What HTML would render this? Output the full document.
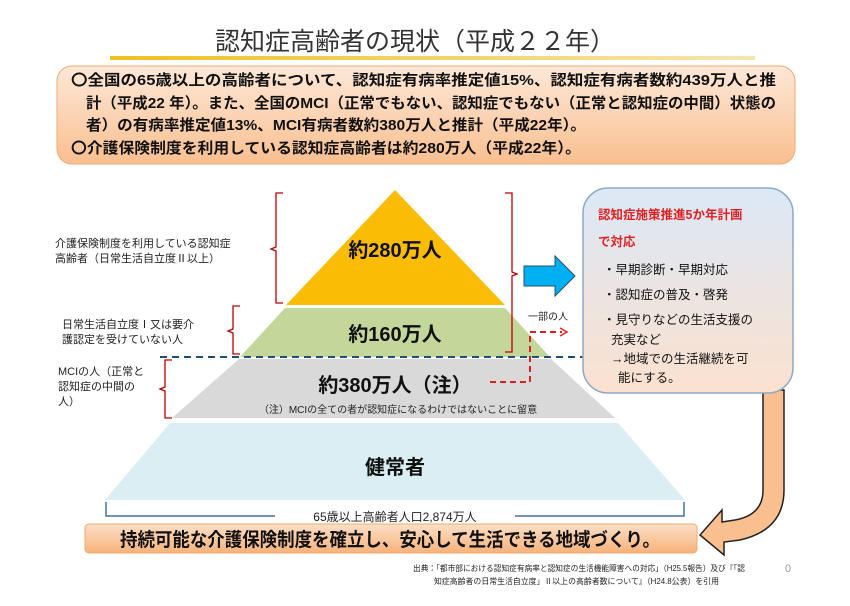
<!DOCTYPE html>
<html><head><meta charset="utf-8"><style>
body{margin:0;background:#fff}
text{font-family:"Liberation Sans","Noto Sans CJK JP",sans-serif}
</style></head><body>
<svg width="850" height="601" viewBox="0 0 850 601" xmlns="http://www.w3.org/2000/svg">
<defs>
<linearGradient id="ob" x1="0" y1="0" x2="0" y2="1"><stop offset="0" stop-color="#fde8d8"/><stop offset="1" stop-color="#f9bf8f"/></linearGradient>
<linearGradient id="bx" x1="0" y1="0" x2="0" y2="1"><stop offset="0" stop-color="#dbe8f6"/><stop offset="1" stop-color="#fbe1cf"/></linearGradient>
<linearGradient id="ul" x1="0" y1="0" x2="1" y2="0"><stop offset="0" stop-color="#f0c020"/><stop offset="1" stop-color="#f5e6b0"/></linearGradient>
<linearGradient id="bb" x1="0" y1="0" x2="0" y2="1"><stop offset="0" stop-color="#fde0c8"/><stop offset="1" stop-color="#f6b27a"/></linearGradient>
</defs>
<text x="415" y="50" font-size="25" text-anchor="middle" fill="#333">認知症高齢者の現状（平成２２年）</text>
<rect x="110" y="56" width="645" height="4" fill="url(#ul)"/>
<rect x="57" y="66" width="738" height="98" rx="15" fill="url(#ob)" stroke="#f0a870"/>
<g font-size="15" font-weight="bold" fill="#111">
<text x="71" y="85" textLength="705" lengthAdjust="spacingAndGlyphs">〇全国の65歳以上の高齢者について、認知症有病率推定値15%、認知症有病者数約439万人と推</text>
<text x="86" y="108" textLength="690" lengthAdjust="spacingAndGlyphs">計（平成22 年）。また、全国のMCI（正常でもない、認知症でもない（正常と認知症の中間）状態の</text>
<text x="86" y="130" textLength="500" lengthAdjust="spacingAndGlyphs">者）の有病率推定値13%、MCI有病者数約380万人と推計（平成22年）。</text>
<text x="71" y="153" textLength="510" lengthAdjust="spacingAndGlyphs">〇介護保険制度を利用している認知症高齢者は約280万人（平成22年）。</text>
</g>
<polygon points="395,190 505,305 286,305" fill="#fbbc05"/>
<polygon points="285,308 505,308 550,357 240,357" fill="#c4d79b"/>
<polygon points="239,359 551,359 615,418 172,418" fill="#d9d9d9"/>
<polygon points="170,423 618,423 685,500 105,500" fill="#daeef3"/>
<line x1="160" y1="357" x2="770" y2="357" stroke="#1f4e79" stroke-width="2" stroke-dasharray="7,5"/>
<path d="M106,502 V516 H275 M515,516 H684 V502" fill="none" stroke="#4a6fa5" stroke-width="1.5"/>
<text x="395" y="521" font-size="12" text-anchor="middle" fill="#222">65歳以上高齢者人口2,874万人</text>
<g font-weight="bold" fill="#111" text-anchor="middle">
<text x="395" y="257" font-size="20">約280万人</text>
<text x="395" y="341" font-size="20">約160万人</text>
<text x="395" y="392" font-size="20">約380万人（注）</text>
<text x="395" y="474" font-size="20">健常者</text>
</g>
<text x="398" y="413" font-size="10" text-anchor="middle" fill="#222">（注）MCIの全ての者が認知症になるわけではないことに留意</text>
<g fill="none" stroke="#c00000" stroke-width="1.3">
<path d="M283,193 H276 V247 L271,249 L276,251 V303 H283"/>
<path d="M240,306 H233 V329 L228,331 L233,333 V354 H240"/>
<path d="M172,360 H165 V387 L160,389 L165,391 V418 H172"/>
<path d="M505,193 H512 V272 L517,274 L512,276 V352 H505"/>
</g>
<g font-size="11" fill="#222">
<text x="55" y="247">介護保険制度を利用している認知症</text>
<text x="55" y="262">高齢者（日常生活自立度Ⅱ以上）</text>
<text x="62" y="328">日常生活自立度Ⅰ又は要介</text>
<text x="62" y="343">護認定を受けていない人</text>
<text x="58" y="375">MCIの人（正常と</text>
<text x="58" y="390">認知症の中間の</text>
<text x="58" y="405">人）</text>
</g>
<polygon points="524,266 555,266 555,256 575,276 555,296 555,286 524,286" fill="#00b0f0" stroke="#1f4e79" stroke-width="1"/>
<text x="528" y="320" font-size="10" fill="#222">一部の人</text>
<path d="M490,382 H530 V332 H562" fill="none" stroke="#e02020" stroke-width="2" stroke-dasharray="6,4"/>
<path d="M560,328 L567,332 L560,336" fill="none" stroke="#e02020" stroke-width="1.5"/>
<path d="M763,390 V490 Q763,515 735,520 L722,522 L722,510 L700,535 L724,555 L724,542 L740,540 Q784,530 784,490 V390 Z" fill="#f9bf8f" stroke="#222" stroke-width="1.5"/>
<rect x="583" y="188" width="210" height="205" rx="25" fill="url(#bx)" stroke="#8ea9c8" stroke-width="1.5"/>
<g font-size="12.5" font-weight="bold" fill="#e02020">
<text x="598" y="219">認知症施策推進5か年計画</text>
<text x="598" y="246">で対応</text>
</g>
<g font-size="12.5" fill="#111">
<text x="603" y="274">・早期診断・早期対応</text>
<text x="603" y="299">・認知症の普及・啓発</text>
<text x="603" y="324">・見守りなどの生活支援の</text>
<text x="611" y="344">充実など</text>
<text x="611" y="363">→地域での生活継続を可</text>
<text x="618" y="382">能にする。</text>
</g>
<rect x="85" y="524" width="612" height="29" rx="4" fill="url(#bb)" stroke="#f0a870"/>
<text x="390" y="546" font-size="19" font-weight="bold" text-anchor="middle" fill="#111" textLength="540" lengthAdjust="spacingAndGlyphs">持続可能な介護保険制度を確立し、安心して生活できる地域づくり。</text>
<g font-size="8" fill="#222">
<text x="413" y="571" textLength="332" lengthAdjust="spacingAndGlyphs">出典：「都市部における認知症有病率と認知症の生活機能障害への対応」（H25.5報告）及び『「認</text>
<text x="434" y="584" textLength="285" lengthAdjust="spacingAndGlyphs">知症高齢者の日常生活自立度」Ⅱ以上の高齢者数について』（H24.8公表）を引用</text>
</g>
<text x="785" y="572" font-size="11" fill="#999">0</text>
</svg>
</body></html>
